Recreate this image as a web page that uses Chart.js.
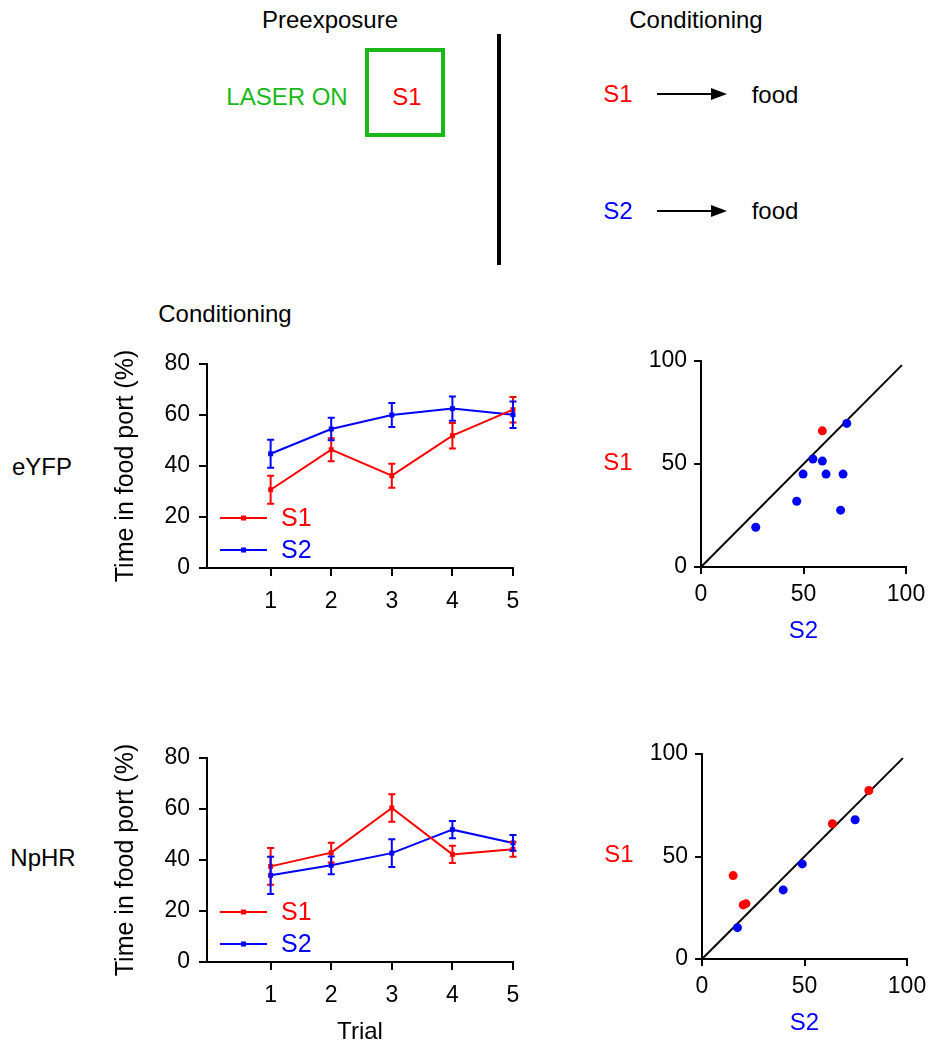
<!DOCTYPE html>
<html><head><meta charset="utf-8">
<script src="https://cdn.jsdelivr.net/npm/chart.js@4.4.1/dist/chart.umd.min.js"></script>
<style>
body{margin:0;background:#fff;width:938px;height:1050px;position:relative;overflow:hidden;font-family:"Liberation Sans",Arial,Helvetica,sans-serif;}
.t{position:absolute;transform:translate(-50%,-50%);white-space:nowrap;line-height:1;font-size:24px;color:#000;}
canvas{position:absolute}
svg{position:absolute;left:0;top:0}
</style></head><body>
<svg width="938" height="280">
  <rect x="367" y="50" width="76" height="85" fill="none" stroke="rgb(25,185,25)" stroke-width="4"/>
  <line x1="499" y1="34" x2="499" y2="265" stroke="#000" stroke-width="4"/>
  <line x1="657" y1="94" x2="716" y2="94" stroke="#000" stroke-width="2"/>
  <polygon points="711,88 727,94 711,100" fill="#000"/>
  <line x1="657" y1="211" x2="716" y2="211" stroke="#000" stroke-width="2"/>
  <polygon points="711,205 727,211 711,217" fill="#000"/>
</svg>
<div class="t" style="left:330px;top:20px">Preexposure</div>
<div class="t" style="left:696px;top:20px">Conditioning</div>
<div class="t" style="left:287px;top:97px;color:rgb(25,185,25)">LASER ON</div>
<div class="t" style="left:407px;top:97px;color:#f00">S1</div>
<div class="t" style="left:618px;top:94px;color:#f00">S1</div>
<div class="t" style="left:775px;top:95px">food</div>
<div class="t" style="left:618px;top:211px;color:#00f">S2</div>
<div class="t" style="left:775px;top:211px">food</div>
<div class="t" style="left:225px;top:314px">Conditioning</div>
<div class="t" style="left:42px;top:467px">eYFP</div>
<div class="t" style="left:43px;top:858px">NpHR</div>

<canvas id="l1" width="560" height="300" style="left:0;top:330px"></canvas>
<canvas id="s1" width="358" height="330" style="left:580px;top:330px"></canvas>
<canvas id="l2" width="560" height="325" style="left:0;top:725px"></canvas>
<canvas id="s2" width="358" height="325" style="left:580px;top:725px"></canvas>

<script>
// ---- data ----
const trials = [1, 2, 3, 4, 5];
const trialTicks = [1, 2, 3, 4, 5];
const lineYTicks = [0, 20, 40, 60, 80];
const scatterTicks = [0, 50, 100];

const eyfpS1 = [30.7, 46.4, 36.2, 51.9, 62.1];
const eyfpS1Err = [5.5, 4.5, 4.7, 5.0, 5.0];
const eyfpS2 = [44.8, 54.5, 60.0, 62.5, 60.1];
const eyfpS2Err = [5.5, 4.4, 4.7, 4.8, 5.2];

const nphrS1 = [37.5, 42.9, 60.4, 42.2, 44.2];
const nphrS1Err = [7.2, 3.9, 5.4, 3.4, 2.9];
const nphrS2 = [34.0, 37.9, 42.7, 51.9, 46.7];
const nphrS2Err = [7.3, 3.5, 5.4, 3.4, 3.1];

const eyfpRedX = [59.2];
const eyfpRedY = [66.1];
const eyfpBlueX = [71.1, 54.6, 59.2, 49.8, 61.0, 69.3, 46.7, 68.1, 26.7];
const eyfpBlueY = [69.7, 52.4, 51.4, 45.1, 45.1, 45.1, 31.9, 27.6, 19.3];

const nphrRedX = [15.2, 20.1, 21.4, 63.6, 81.4];
const nphrRedY = [40.7, 26.4, 27.0, 66.0, 82.2];
const nphrBlueX = [17.3, 39.6, 48.9, 74.7];
const nphrBlueY = [15.3, 33.7, 46.4, 67.9];

const identityX = [0, 98];
const identityY = [0, 98];

// ---- helpers ----
const FONT = '"Liberation Sans", Arial, Helvetica, sans-serif';
const RED = '#ff0000', BLUE = '#0000ff';
const toXY = (xs, ys) => xs.map((v, i) => ({x: v, y: ys[i]}));

function axis(min, max, ticks, size, isX, tickLen, pad) {
  return {
    type: 'linear', min: min, max: max,
    afterBuildTicks: s => { s.ticks = ticks.map(v => ({value: v})); },
    afterFit: s => { if (isX) s.height = size; else s.width = size; },
    grid: {display: true, drawOnChartArea: false, drawTicks: true, tickLength: tickLen, color: '#000', lineWidth: 2},
    border: {display: true, color: '#000', width: 2},
    ticks: {color: '#000', font: {family: FONT, size: 23}, padding: pad, maxRotation: 0, autoSkip: false}
  };
}

function lineChart(id, s1, s1e, s2, s2e, pad, showTrial) {
  const errs = [s1e, s2e];
  const deco = {
    id: 'deco' + id,
    afterDatasetsDraw(chart) {
      const {ctx, chartArea: a, scales: {x, y}} = chart;
      ctx.save();
      chart.data.datasets.forEach((ds, di) => {
        ctx.strokeStyle = ds.borderColor; ctx.lineWidth = 2;
        ds.data.forEach((p, i) => {
          const px = x.getPixelForValue(p.x);
          const y1 = y.getPixelForValue(p.y - errs[di][i]);
          const y2 = y.getPixelForValue(p.y + errs[di][i]);
          ctx.beginPath();
          ctx.moveTo(px, y1); ctx.lineTo(px, y2);
          ctx.moveTo(px - 3.5, y1); ctx.lineTo(px + 3.5, y1);
          ctx.moveTo(px - 3.5, y2); ctx.lineTo(px + 3.5, y2);
          ctx.stroke();
        });
      });
      // legend
      const items = [['S1', RED, a.bottom - 50], ['S2', BLUE, a.bottom - 18]];
      items.forEach(([lab, col, ly]) => {
        ctx.strokeStyle = col; ctx.fillStyle = col; ctx.lineWidth = 2;
        ctx.beginPath(); ctx.moveTo(a.left + 13, ly); ctx.lineTo(a.left + 60, ly); ctx.stroke();
        ctx.fillRect(a.left + 34, ly - 2.5, 5, 5);
        ctx.font = '25px ' + FONT; ctx.textAlign = 'left'; ctx.textBaseline = 'middle';
        ctx.fillText(lab, a.left + 74, ly + 1);
      });
      // y title
      ctx.fillStyle = '#000';
      ctx.font = '25px ' + FONT;
      ctx.translate(a.left - 81, (a.top + a.bottom) / 2);
      ctx.rotate(-Math.PI / 2);
      ctx.textAlign = 'center'; ctx.textBaseline = 'middle';
      ctx.fillText('Time in food port (%)', 0, 0);
      ctx.restore();
      if (showTrial) {
        ctx.save();
        ctx.fillStyle = '#000'; ctx.font = '24px ' + FONT;
        ctx.textAlign = 'center'; ctx.textBaseline = 'middle';
        ctx.fillText('Trial', (a.left + a.right) / 2, a.bottom + 70);
        ctx.restore();
      }
    }
  };
  const mk = (data, col) => ({
    data: data, borderColor: col, backgroundColor: col, borderWidth: 2,
    pointStyle: 'rect', pointRadius: 3.5, pointBorderWidth: 0, tension: 0, clip: false
  });
  return new Chart(document.getElementById(id), {
    type: 'line',
    data: {datasets: [mk(toXY(trials, s1), RED), mk(toXY(trials, s2), BLUE)]},
    options: {
      responsive: false, animation: false, devicePixelRatio: 1,
      layout: {padding: pad},
      plugins: {legend: {display: false}, tooltip: {enabled: false}},
      scales: {
        x: axis(-0.05, 5, trialTicks, 50, true, 8, 12),
        y: axis(0, 80, lineYTicks, 100, false, 8, 9)
      }
    },
    plugins: [deco]
  });
}

function scatterChart(id, rx, ry, bx, by, pad) {
  const deco = {
    id: 'deco' + id,
    afterDraw(chart) {
      const {ctx, chartArea: a} = chart;
      ctx.save();
      ctx.font = '24px ' + FONT; ctx.textAlign = 'center'; ctx.textBaseline = 'middle';
      ctx.fillStyle = RED;
      ctx.fillText('S1', a.left - 83, (a.top + a.bottom) / 2 - 1);
      ctx.fillStyle = BLUE;
      ctx.fillText('S2', (a.left + a.right) / 2, a.bottom + 64);
      ctx.restore();
    }
  };
  const pts = (data, col) => ({
    type: 'scatter', data: data, backgroundColor: col, borderColor: col,
    pointRadius: 4.5, pointBorderWidth: 0, showLine: false, clip: false, order: 1
  });
  return new Chart(document.getElementById(id), {
    type: 'scatter',
    data: {datasets: [
      pts(toXY(rx, ry), RED),
      pts(toXY(bx, by), BLUE),
      {type: 'line', data: toXY(identityX, identityY), borderColor: '#000', borderWidth: 2,
       pointRadius: 0, showLine: true, clip: false, order: 2}
    ]},
    options: {
      responsive: false, animation: false, devicePixelRatio: 1,
      layout: {padding: pad},
      plugins: {legend: {display: false}, tooltip: {enabled: false}},
      scales: {
        x: axis(0, 100, scatterTicks, 45, true, 7, 7),
        y: axis(0, 100, scatterTicks, 60, false, 7, 7)
      }
    },
    plugins: [deco]
  });
}

lineChart('l1', eyfpS1, eyfpS1Err, eyfpS2, eyfpS2Err, {left: 107, right: 47, top: 34, bottom: 12}, false);
lineChart('l2', nphrS1, nphrS1Err, nphrS2, nphrS2Err, {left: 107, right: 47, top: 33, bottom: 38}, true);
scatterChart('s1', eyfpRedX, eyfpRedY, eyfpBlueX, eyfpBlueY, {left: 61, right: 32, top: 31, bottom: 48});
scatterChart('s2', nphrRedX, nphrRedY, nphrBlueX, nphrBlueY, {left: 62, right: 31, top: 29, bottom: 46});
</script>
</body></html>
